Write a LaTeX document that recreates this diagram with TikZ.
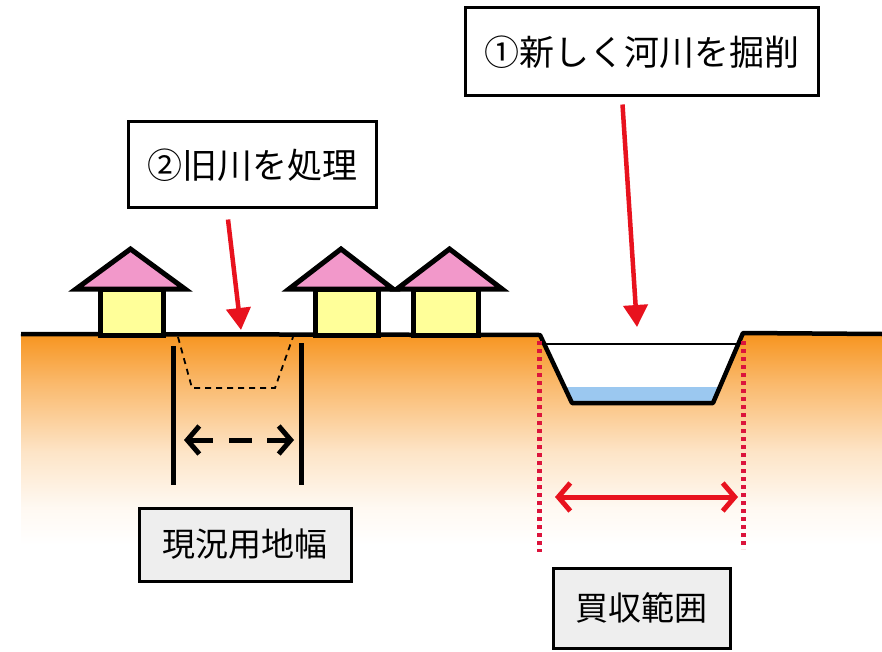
\documentclass[tikz,border=0pt]{standalone}
\usepackage{fontspec}
\newfontfamily\jpfont{Noto Sans CJK JP}
\usetikzlibrary{arrows.meta}

\definecolor{soil}{RGB}{247,148,30}
\definecolor{roofpink}{RGB}{242,152,202}
\definecolor{wallyellow}{RGB}{255,255,153}
\definecolor{water}{RGB}{155,200,240}
\definecolor{mark}{RGB}{232,18,30}
\definecolor{dotred}{RGB}{220,20,60}
\definecolor{tagfill}{RGB}{238,238,238}

\pgfdeclareverticalshading{soilfade}{100bp}{color(0bp)=(white); color(25bp)=(white); color(34bp)=(soil!6!white); color(47bp)=(soil!25!white); color(63bp)=(soil!65!white); color(75bp)=(soil); color(100bp)=(soil)}

\tikzset{
  house/.style={line width=5pt, line join=miter},
  callout/.style={draw=black, line width=3pt, fill=white, font=\jpfont\fontsize{35}{35}\selectfont, inner sep=0pt},
  tag/.style={draw=black, line width=3pt, fill=tagfill, font=\jpfont\fontsize{33}{33}\selectfont, inner sep=0pt},
  pointer/.style={draw=mark, line width=4.5pt, -{Triangle[length=22pt,width=24pt]}},
  boundary/.style={draw=dotred, line width=5pt, dash pattern=on 4pt off 4pt},
  widthbar/.style={line width=5pt},
  barb/.tip={Straight Barb[length=12pt,width=28pt,line width=5pt]},
  chevrons/.style={line width=5pt, barb-barb}
}

\newcommand{\drawhouse}[4]{%
  % #1 roof left, #2 roof right, #3 wall left, #4 wall right
  \filldraw[house, fill=wallyellow] (#3,289) rectangle (#4,335);
  \filldraw[house, fill=roofpink] (#1,289) -- ({(#1+#2)/2},249) -- (#2,289) -- cycle;
}

\begin{document}
\begin{tikzpicture}[x=1pt, y=-1pt]
\useasboundingbox (0,0) rectangle (882,652);
\fill[white] (0,0) rectangle (882,652);

% ground with the new channel cut into it
\shade[shading=soilfade] (21,335) -- (540,335) -- (572,403) -- (713,403) -- (743,333) -- (882,333) -- (882,545) -- (21,545) -- cycle;
\fill[white] (540,335) -- (572,403) -- (713,403) -- (743,333) -- cycle;

% water in the new channel
\fill[water] (564.5,387) -- (572,403) -- (713,403) -- (720,387) -- cycle;
\coordinate (wl) at (544,344);
\coordinate (wr) at (738.5,344);
\draw[line width=1.2pt] (wl) -- (wr);

% old channel outline (filled in)
\coordinate (o1) at (178,337);
\coordinate (o2) at (192,388);
\coordinate (o3) at (275,388);
\coordinate (o4) at (293,337);
\draw[line width=1.8pt, dash pattern=on 6pt off 5pt] (o1) -- (o2) -- (o3) -- (o4);

% ground line
\coordinate (g0) at (21,334);
\coordinate (g1) at (540,335);
\coordinate (g2) at (572,403);
\coordinate (g3) at (713,403);
\coordinate (g4) at (743,333);
\coordinate (g5) at (882,334);
\draw[line width=4.5pt, line join=round] (g0) -- (g1) -- (g2) -- (g3) -- (g4) -- (g5);

% houses
\drawhouse{76}{185}{100}{163}
\drawhouse{289}{393}{315}{378}
\drawhouse{397}{502}{413}{478}

% current land width
\coordinate (la) at (173,346);
\coordinate (lb) at (173,485);
\coordinate (ra) at (301,343);
\coordinate (rb) at (301,485);
\draw[widthbar] (la) -- (lb);
\draw[widthbar] (ra) -- (rb);
\coordinate (c1) at (184,440);
\coordinate (c2) at (213,440);
\coordinate (c3) at (229,440);
\coordinate (c4) at (252,440);
\coordinate (c5) at (267,440);
\coordinate (c6) at (294,440);
\draw[line width=5pt, barb-] (c1) -- (c2);
\draw[line width=5pt] (c3) -- (c4);
\draw[line width=5pt, -barb] (c5) -- (c6);

% purchase range
\coordinate (pl1) at (539,341);
\coordinate (pl2) at (539,552);
\coordinate (pr1) at (743,341);
\coordinate (pr2) at (743,549);
\draw[boundary] (pl1) -- (pl2);
\draw[boundary] (pr1) -- (pr2);
\coordinate (pa) at (555,497);
\coordinate (pb) at (738,497);
\draw[draw=mark, chevrons] (pa) -- (pb);

% labels
\node[callout, minimum width=353pt, minimum height=88pt] (step1) at (641.5,52) {①新しく河川を掘削};
\node[callout, minimum width=248pt, minimum height=86pt] (step2) at (252,165) {②旧川を処理};
\node[tag, minimum width=212pt, minimum height=73pt] (landw) at (245,544.5) {現況用地幅};
\node[tag, minimum width=177pt, minimum height=80pt] (buyw) at (641.5,608) {買収範囲};

% pointers
\coordinate (t1) at (637,327);
\coordinate (t2) at (241,330);
\draw[pointer] ([xshift=-19pt]step1.south) ++(0,7) -- (t1);
\draw[pointer] ([xshift=-24pt]step2.south) ++(0,10) -- (t2);
\end{tikzpicture}
\end{document}
